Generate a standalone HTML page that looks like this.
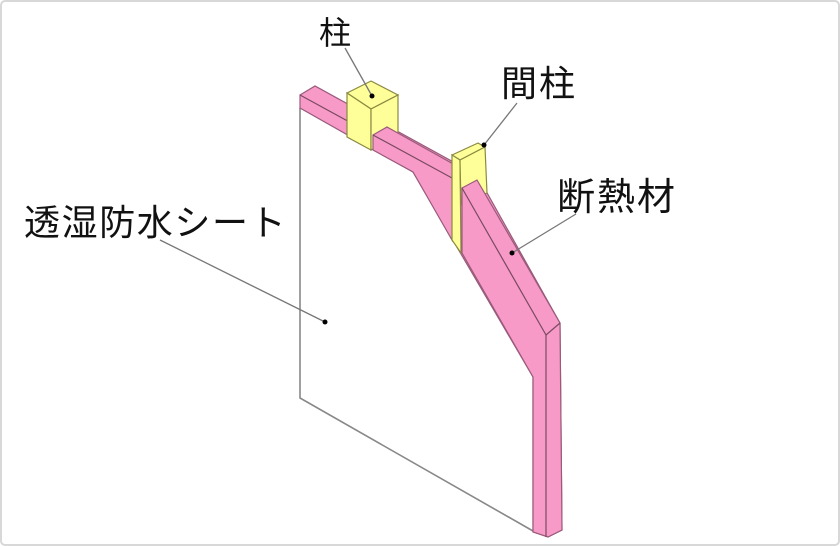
<!DOCTYPE html>
<html><head><meta charset="utf-8"><style>
html,body{margin:0;padding:0;background:#fff}
svg{display:block}
text{font-family:"Liberation Sans","Noto Sans CJK JP",sans-serif;fill:#111}
</style></head><body>
<svg width="840" height="546" viewBox="0 0 840 546" xmlns="http://www.w3.org/2000/svg">
<rect x="1" y="1" width="838" height="544" rx="4" fill="#fff" stroke="#d8d8d8" stroke-width="2"/>
<!-- sheet -->
<polyline points="300,108 300,398 533,531" fill="none" stroke="#888" stroke-width="1.6"/>
<!-- full beam back -->
<polygon points="300,95 315,86 477,175 560,323 562,530 548,537 533,532 533,377 413,172 300,108" fill="#f79ac8" stroke="#9a5a7a" stroke-width="1.2"/>
<line x1="300" y1="95" x2="452" y2="178" stroke="#7a4a60" stroke-width="1.2"/>
<!-- column 柱 -->
<polygon points="347,93 371,81 398,95 371,109" fill="#ffff9a" stroke="#8a8a40" stroke-width="1.2"/>
<polygon points="347,93 371,109 371,150 347,137" fill="#ffff9a" stroke="#8a8a40" stroke-width="1.2"/>
<polygon points="371,109 398,95 398,135 371,150" fill="#ffff9a" stroke="#8a8a40" stroke-width="1.2"/>
<!-- beam segment in front of column -->
<polygon points="373,135 387,127 455,165 452,240 413,172 373,150" fill="#f79ac8" stroke="#9a5a7a" stroke-width="1.2"/>
<line x1="373" y1="135" x2="452" y2="178" stroke="#7a4a60" stroke-width="1.2"/>
<!-- 間柱 -->
<polygon points="452,155 478,143 485,147 460,160" fill="#ffff9a" stroke="#8a8a40" stroke-width="1.2"/>
<polygon points="452,155 460,160 461,253 452,240" fill="#ffff9a" stroke="#8a8a40" stroke-width="1.2"/>
<polygon points="460,160 485,147 487,193 461,205" fill="#ffff9a" stroke="#8a8a40" stroke-width="1.2"/>
<!-- lower beam front -->
<polygon points="462,188 477,180 560,323 562,530 548,537 533,532 533,377 462,253" fill="#f79ac8" stroke="#9a5a7a" stroke-width="1.2"/>
<polyline points="462,188 546,335 546,537" fill="none" stroke="#7a4a60" stroke-width="1.2"/>
<line x1="546" y1="335" x2="560" y2="323" stroke="#7a4a60" stroke-width="1.2"/>
<!-- leaders -->
<g stroke="#777" stroke-width="1.3">
<line x1="345" y1="48" x2="372" y2="96"/>
<line x1="517" y1="103" x2="484" y2="145"/>
<line x1="576" y1="214" x2="512" y2="253"/>
<line x1="160" y1="240" x2="325" y2="322"/>
</g>
<g fill="#000">
<circle cx="372" cy="96" r="2.5"/>
<circle cx="484" cy="145" r="2.5"/>
<circle cx="512" cy="253" r="2.5"/>
<circle cx="325" cy="322" r="2.5"/>
</g>
<text x="319" y="44" font-size="32">柱</text>
<text x="501" y="96" font-size="36" letter-spacing="2">間柱</text>
<text x="557" y="210" font-size="38" letter-spacing="2">断熱材</text>
<text x="24" y="235" font-size="36" letter-spacing="1.6">透湿防水シート</text>
</svg>
</body></html>
